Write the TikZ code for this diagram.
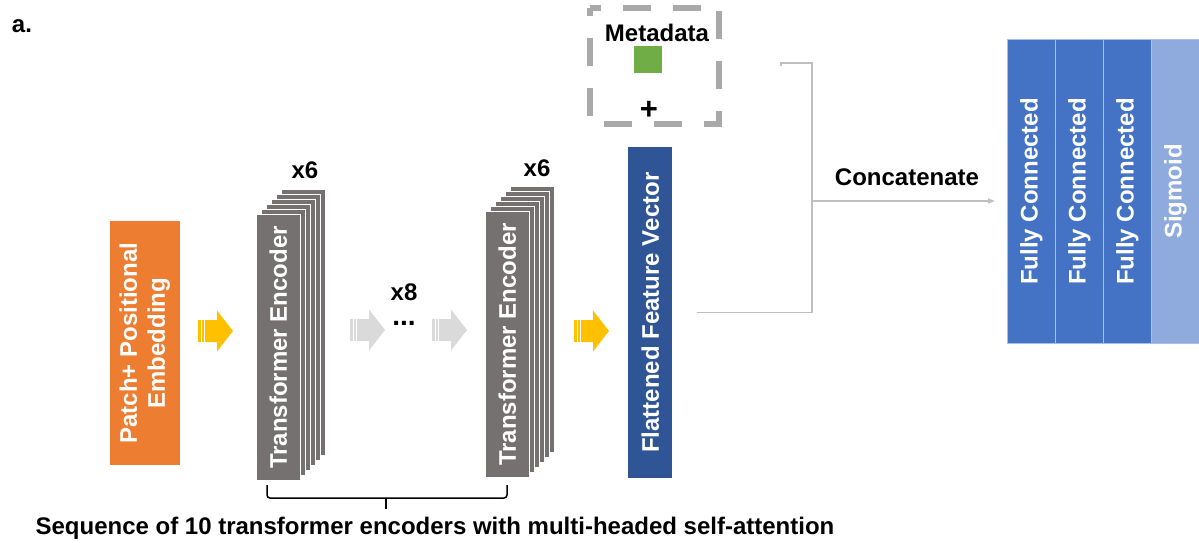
\documentclass[tikz,border=0pt]{standalone}
\usepackage{fontspec}
\setmainfont{Liberation Sans}
\usetikzlibrary{arrows.meta}
\definecolor{orangeA}{HTML}{ED7D31}
\definecolor{encgray}{HTML}{767171}
\definecolor{fvblue}{HTML}{2F5597}
\definecolor{fcblue}{HTML}{4472C4}
\definecolor{sigblue}{HTML}{8FAADC}
\definecolor{yellowA}{HTML}{FFC000}
\definecolor{lgray}{HTML}{DADADA}
\definecolor{dashgray}{HTML}{A9A9A9}
\definecolor{conngray}{HTML}{BFBFBF}
\definecolor{greenA}{HTML}{70AD47}
\definecolor{sepblue}{HTML}{A9BEE6}
\begin{document}
\begin{tikzpicture}[x=1pt,y=-1pt,
  lbl/.style={font=\fontsize{24}{28}\selectfont\bfseries, inner sep=0},
  vbox/.style={rectangle, anchor=north west, inner sep=0, text=white, font=\fontsize{24}{28}\selectfont\bfseries},
  encbox/.style={vbox, fill=encgray, draw=white, line width=0.8pt, minimum width=44pt, minimum height=266pt},
  encback/.style={fill=encgray, draw=white, line width=0.8pt},
  fcbox/.style={vbox, fill=fcblue, draw=sepblue, line width=0.8pt, minimum width=48pt, minimum height=304pt},
  conn/.style={draw=conngray, line width=1.5pt},
  pics/sarrow/.style={code={
    \fill[#1] (0,-11) rectangle (2.5,11);
    \fill[#1] (3.5,-11) rectangle (6,11);
    \fill[#1] (7,-11) -- (19,-11) -- (19,-20.5) -- (35,0) -- (19,20.5) -- (19,11) -- (7,11) -- cycle;}}
]
\useasboundingbox (0,0) rectangle (1199,543);

\node[lbl] (a) at (22,26) {a.};

\node[vbox, fill=orangeA, minimum width=70pt, minimum height=244pt] (pe) at (110,221) {\rotatebox{90}{\begin{tabular}{@{}c@{}}Patch+ Positional\\Embedding\end{tabular}}};

\pic at (198,331) {sarrow=yellowA};

\foreach \k in {5,...,1} \draw[encback] (256+5*\k,214-5*\k) rectangle ++(44,266);
\node[encbox] (enc1) at (256,214) {\rotatebox{90}{Transformer Encoder}};
\node[lbl] (x6a) at (305,170) {x6};

\pic at (350,330) {sarrow=lgray};
\node[lbl, font=\fontsize{28}{32}\selectfont\bfseries] (dots) at (404,323) {...};
\node[lbl] (x8) at (404,292) {x8};
\pic at (432,330) {sarrow=lgray};

\foreach \k in {5,...,1} \draw[encback] (485+5*\k,211-5*\k) rectangle ++(44,266);
\node[encbox] (enc2) at (485,211) {\rotatebox{90}{Transformer Encoder}};
\node[lbl] (x6b) at (537,168) {x6};

\pic at (574,331) {sarrow=yellowA};
\node[vbox, fill=fvblue, minimum width=44pt, minimum height=331pt] (fv) at (628,147) {\rotatebox{90}{Flattened Feature Vector}};

\node[minimum width=129pt, minimum height=116pt, inner sep=0] (meta) at (654.5,66) {};
\draw[draw=dashgray, line width=6pt, dash pattern=on 28pt off 22pt, dash phase=17pt] (meta.north west) -- (meta.north east) -- (meta.south east) -- (meta.south west) -- cycle;
\node[lbl] (mtxt) at (657,33) {Metadata};
\node[fill=greenA, minimum width=28pt, minimum height=27pt, inner sep=0] (mgreen) at (648,59.5) {};
\node[lbl, font=\fontsize{31}{34}\selectfont\bfseries] (plus) at (649,110) {+};

\node[fcbox] (fc1) at (1007,39) {\rotatebox{90}{Fully Connected}};
\node[fcbox] (fc2) at (1055,39) {\rotatebox{90}{Fully Connected}};
\node[fcbox] (fc3) at (1103,39) {\rotatebox{90}{Fully Connected}};
\node[fcbox, fill=sigblue] (sig) at (1151,39) {\rotatebox{90}{Sigmoid}};

\coordinate (fvout) at ([xshift=25pt]fv.east);
\coordinate (j) at (812,201);
\coordinate (mt) at (781,63);
\draw[conn] (fvout) -| (j) |- (mt) -- ++(0,3);
\draw[conn, -{Triangle[length=7pt,width=5pt]}, shorten >=12pt] (j) -- (j -| fc1.west);
\node[lbl] (concat) at (907,177) {Concatenate};

\draw[line width=1.5pt, rounded corners=3pt] (267,485) -- (267,498) -- (507,498) -- (507,485);
\draw[line width=1.5pt] (386,498) -- (386,509);
\node[lbl] (cap) at (435,528) {Sequence of 10 transformer encoders with multi-headed self-attention};
\end{tikzpicture}
\end{document}
